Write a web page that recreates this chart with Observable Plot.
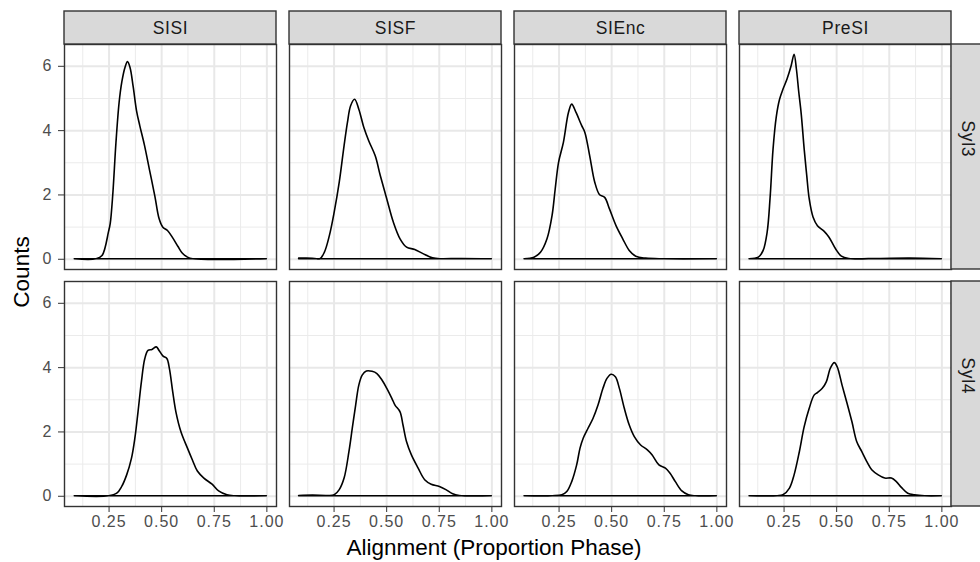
<!DOCTYPE html>
<html>
<head>
<meta charset="utf-8">
<script src="https://cdn.jsdelivr.net/npm/d3@7"></script>
<script src="https://cdn.jsdelivr.net/npm/@observablehq/plot@0.6"></script>
<style>
  body { margin: 0; background: #fff; }
  #chart svg { font-family: "Liberation Sans", Arial, Helvetica, sans-serif; }
  #chart svg g[aria-label*="axis"] text { font-size: 16px; fill: #4d4d4d; letter-spacing: 1px; }
</style>
</head>
<body>
<div id="chart"></div>
<script>
// ---- categories & labels ----
const conditions = ["SISI", "SISF", "SIEnc", "PreSI"];
const syllables = ["Syl3", "Syl4"];
const xTicks = [0.25, 0.5, 0.75, 1.0];
const xMinor = [0.125, 0.375, 0.625, 0.875];
const yTicks = [0, 2, 4, 6];
const yMinor = [1, 3, 5];
const xTitle = "Alignment (Proportion Phase)";
const yTitle = "Counts";

// ---- density curves [x, density] ----
const sisiSyl3 = [[0.087,0],[0.19,0],[0.219,0.1],[0.25,0.85],[0.258,1.1],[0.27,2.0],[0.285,3.6],[0.30,4.85],[0.313,5.5],[0.328,5.95],[0.34,6.13],[0.352,5.95],[0.367,5.35],[0.383,4.6],[0.398,4.15],[0.42,3.55],[0.445,2.75],[0.47,1.95],[0.49,1.25],[0.508,0.98],[0.53,0.88],[0.555,0.65],[0.58,0.38],[0.60,0.18],[0.625,0.05],[0.65,0],[1.0,0]];
const sisfSyl3 = [[0.084,0.02],[0.12,0.025],[0.16,0.01],[0.185,0.0],[0.206,0.2],[0.23,0.72],[0.253,1.45],[0.277,2.38],[0.30,3.52],[0.316,4.24],[0.331,4.76],[0.35,4.96],[0.37,4.65],[0.394,4.08],[0.417,3.67],[0.448,3.2],[0.472,2.59],[0.503,1.86],[0.534,1.14],[0.566,0.62],[0.597,0.36],[0.636,0.29],[0.675,0.16],[0.72,0.03],[0.76,0.0],[0.85,0.01],[1.0,0]];
const siencSyl3 = [[0.086,0],[0.133,0.05],[0.164,0.2],[0.195,0.62],[0.219,1.34],[0.234,2.17],[0.25,3.0],[0.273,3.62],[0.297,4.55],[0.3125,4.81],[0.333,4.55],[0.36,4.14],[0.375,3.93],[0.398,3.2],[0.422,2.38],[0.445,1.99],[0.469,1.91],[0.492,1.55],[0.523,1.03],[0.555,0.62],[0.586,0.26],[0.617,0.08],[0.664,0.02],[0.75,0],[1.0,0]];
const presiSyl3 = [[0.086,0],[0.13,0.05],[0.153,0.26],[0.172,0.83],[0.186,1.9],[0.200,3.41],[0.215,4.4],[0.231,4.96],[0.247,5.27],[0.266,5.58],[0.286,6.0],[0.30,6.36],[0.311,5.9],[0.322,5.2],[0.334,4.5],[0.348,3.41],[0.36,2.6],[0.372,1.86],[0.39,1.3],[0.411,1.03],[0.442,0.86],[0.466,0.67],[0.497,0.31],[0.525,0.08],[0.56,0.01],[0.7,0.01],[0.85,0.02],[1.0,0]];
const sisiSyl4 = [[0.087,0],[0.25,0],[0.289,0.08],[0.3125,0.29],[0.336,0.65],[0.359,1.17],[0.375,1.79],[0.39,2.61],[0.406,3.54],[0.422,4.26],[0.4375,4.52],[0.456,4.55],[0.477,4.63],[0.49,4.52],[0.508,4.35],[0.527,4.27],[0.539,3.96],[0.555,3.23],[0.57,2.61],[0.594,1.99],[0.625,1.48],[0.648,1.12],[0.672,0.77],[0.703,0.55],[0.742,0.36],[0.773,0.15],[0.8125,0.03],[0.85,0],[1.0,0]];
const sisfSyl4 = [[0.084,0.01],[0.15,0.02],[0.22,0.01],[0.253,0.03],[0.277,0.19],[0.30,0.55],[0.323,1.37],[0.339,2.1],[0.355,2.82],[0.37,3.44],[0.386,3.75],[0.406,3.88],[0.433,3.87],[0.456,3.80],[0.48,3.6],[0.503,3.34],[0.527,3.03],[0.542,2.82],[0.566,2.61],[0.58,2.2],[0.597,1.68],[0.62,1.27],[0.652,0.86],[0.683,0.5],[0.714,0.36],[0.753,0.29],[0.784,0.19],[0.816,0.06],[0.847,0.01],[1.0,0]];
const siencSyl4 = [[0.086,0],[0.22,0],[0.266,0.03],[0.289,0.13],[0.3125,0.44],[0.336,0.96],[0.352,1.48],[0.367,1.79],[0.39,2.1],[0.414,2.41],[0.4375,2.82],[0.461,3.34],[0.48,3.65],[0.5,3.78],[0.52,3.7],[0.539,3.34],[0.5625,2.72],[0.586,2.2],[0.61,1.84],[0.64,1.58],[0.672,1.43],[0.695,1.27],[0.727,0.96],[0.758,0.86],[0.78,0.70],[0.805,0.44],[0.836,0.15],[0.867,0.03],[0.9,0],[1.0,0]];
const presiSyl4 = [[0.086,0],[0.22,0],[0.247,0.03],[0.278,0.24],[0.30,0.65],[0.325,1.37],[0.348,2.15],[0.372,2.72],[0.395,3.13],[0.411,3.21],[0.434,3.34],[0.453,3.54],[0.473,3.98],[0.491,4.14],[0.505,4.01],[0.528,3.44],[0.552,2.87],[0.575,2.3],[0.598,1.68],[0.622,1.37],[0.645,1.07],[0.669,0.81],[0.70,0.65],[0.731,0.55],[0.7625,0.55],[0.786,0.44],[0.81,0.26],[0.84,0.08],[0.872,0.03],[0.92,0],[1.0,0]];

const curves = [
  ["SISI", "Syl3", sisiSyl3], ["SISF", "Syl3", sisfSyl3], ["SIEnc", "Syl3", siencSyl3], ["PreSI", "Syl3", presiSyl3],
  ["SISI", "Syl4", sisiSyl4], ["SISF", "Syl4", sisfSyl4], ["SIEnc", "Syl4", siencSyl4], ["PreSI", "Syl4", presiSyl4]
];
const data = curves.flatMap(([cond, syl, pts]) => pts.map(([x, y]) => ({cond, syl, x, y})));

// ggplot-like 5% expansion of the data range
const xExt = d3.extent(data, d => d.x);
const yExt = [0, d3.max(data, d => d.y)];
const xDomain = [xExt[0] - 0.05 * (xExt[1] - xExt[0]), xExt[1] + 0.05 * (xExt[1] - xExt[0])];
const yDomain = [yExt[0] - 0.05 * (yExt[1] - yExt[0]), yExt[1] + 0.05 * (yExt[1] - yExt[0])];

const STRIP = 33;
const border = "#333333";

const plot = Plot.plot({
  width: 980,
  height: 562,
  marginLeft: 63,
  marginRight: 27,
  marginTop: 44,
  marginBottom: 55,
  style: {fontFamily: "Liberation Sans, Arial, Helvetica, sans-serif", fontSize: "16px", color: border, background: "white", overflow: "visible"},
  fx: {domain: conditions, paddingInner: 0.0561, paddingOuter: 0, axis: null, label: null},
  fy: {domain: syllables, paddingInner: 0.0505, paddingOuter: 0, axis: null, label: null},
  x: {domain: xDomain, ticks: xTicks, tickFormat: d3.format(".2f"), tickSize: 6, tickPadding: 3, label: null},
  y: {domain: yDomain, ticks: yTicks, tickFormat: d3.format("d"), tickSize: 6, tickPadding: 6, label: null},
  marks: [
    Plot.ruleX(xMinor, {stroke: "#ebebeb", strokeWidth: 1}),
    Plot.ruleY(yMinor, {stroke: "#ebebeb", strokeWidth: 1}),
    Plot.ruleX(xTicks, {stroke: "#e8e8e8", strokeWidth: 2}),
    Plot.ruleY(yTicks, {stroke: "#e8e8e8", strokeWidth: 2}),
    Plot.areaY(data, {x: "x", y: "y", fx: "cond", fy: "syl", fill: "none", stroke: "black", strokeWidth: 1.6, curve: "catmull-rom"}),
    Plot.frame({stroke: border, strokeWidth: 1.4}),
    // top strips
    Plot.rect(conditions, {fx: d => d, fy: () => syllables[0], x1: () => xDomain[0], x2: () => xDomain[1], y1: () => yDomain[1], y2: () => yDomain[1], insetTop: -STRIP, fill: "#d9d9d9", stroke: border, strokeWidth: 1.4}),
    Plot.text(conditions, {fx: d => d, fy: () => syllables[0], text: d => d, frameAnchor: "top", dy: -STRIP / 2, fontSize: 17.5, fill: "#1a1a1a", lineAnchor: "middle"}),
    // right strips
    Plot.rect(syllables, {fy: d => d, fx: () => conditions[conditions.length - 1], x1: () => xDomain[1], x2: () => xDomain[1], y1: () => yDomain[0], y2: () => yDomain[1], insetRight: -STRIP, fill: "#d9d9d9", stroke: border, strokeWidth: 1.4}),
    Plot.text(syllables, {fy: d => d, fx: () => conditions[conditions.length - 1], text: d => d, frameAnchor: "right", dx: STRIP / 2, rotate: 90, fontSize: 17.5, fill: "#1a1a1a", lineAnchor: "middle"})
  ]
});

const svg = d3.select(plot);
svg.selectAll('g[aria-label="text"] text').style("letter-spacing", "0.6px");

svg.append("text")
  .attr("x", 494).attr("y", 555)
  .attr("text-anchor", "middle")
  .attr("font-size", 22.5)
  .attr("fill", "black")
  .text(xTitle);
svg.append("text")
  .attr("transform", "translate(29,272) rotate(-90)")
  .attr("text-anchor", "middle")
  .attr("font-size", 22.5)
  .attr("fill", "black")
  .text(yTitle);

document.getElementById("chart").appendChild(plot);
</script>
</body>
</html>
